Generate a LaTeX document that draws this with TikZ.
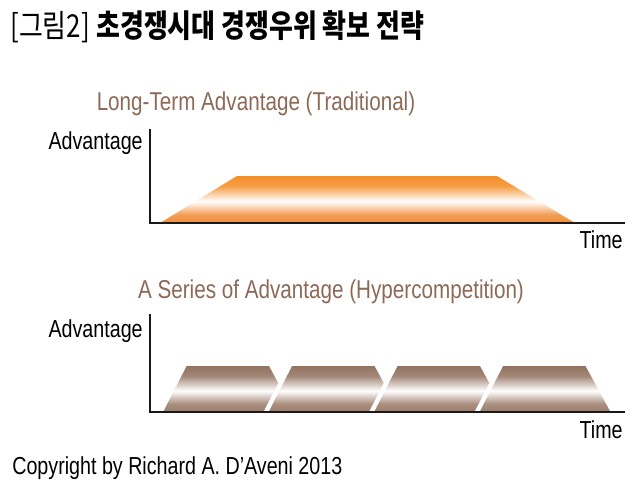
\documentclass[tikz,border=0pt]{standalone}
\usepackage{xcolor}
\usepackage{fontspec}
\setmainfont{Liberation Sans}[FakeStretch=0.8]
\newfontfamily\hangul{Noto Sans CJK KR}[FakeStretch=0.82]
\usetikzlibrary{positioning}

\definecolor{headbrown}{HTML}{8B6A57}
\definecolor{orangetop}{HTML}{F58E28}
\definecolor{orangebot}{HTML}{F08D3A}
\definecolor{browntop}{HTML}{937360}
\definecolor{brownbot}{HTML}{9C7C69}

\pgfdeclareverticalshading{orangeband}{100bp}{color(0bp)=(orangebot); color(25bp)=(orangebot); color(34bp)=(orangebot!85!white); color(48bp)=(white); color(64bp)=(orangetop!85!white); color(75bp)=(orangetop); color(100bp)=(orangetop)}
\pgfdeclareverticalshading{brownband}{100bp}{color(0bp)=(brownbot); color(25bp)=(brownbot); color(34bp)=(brownbot!85!white); color(48bp)=(white); color(64bp)=(browntop!85!white); color(75bp)=(browntop); color(100bp)=(browntop)}

\begin{document}
\begin{tikzpicture}[
    x=0.02cm, y=-0.02cm,
    label/.style={inner sep=0pt, font=\fontsize{14}{16}\selectfont},
    heading/.style={inner sep=0pt, font=\fontsize{14.7}{17}\selectfont, text=headbrown, anchor=base},
    axis/.style={line width=1.7pt, line join=miter, black!90},
    gap/.style={white, line width=2.5pt}
]
    \useasboundingbox (0,0) rectangle (640,487);

    % title
    \node (title) [inner sep=0pt, anchor=base west, font=\hangul\fontsize{18}{20}\selectfont] at (10,37) {[그림2]\hspace{0.2em}\textbf{초경쟁시대 경쟁우위 확보 전략}};

    % traditional
    \node (head1) [heading] at (256,110) {Long-Term Advantage (Traditional)};
    \node (adv1) [label, anchor=base east] at (143,149) {Advantage};
    \shade[shading=orangeband] (160,223) -- (237,176) -- (497,176) -- (575,223) -- cycle;
    \draw[axis] (150,129) -- (150,223) -- (625,223);
    \node (time1) [label, anchor=base east] at (623,248) {Time};

    % hypercompetition
    \node (head2) [heading] at (331,298) {A Series of Advantage (Hypercompetition)};
    \node (adv2) [label, anchor=base east] at (143,337) {Advantage};
    \foreach \b in {160,265.5,371,476.5} {
        \shade[shading=brownband] (\b,412) -- (\b+24,366) -- (\b+109,366) -- (\b+134,412) -- cycle;
        \draw[gap] (\b,413) -- (\b+24.5,365);
    }
    \draw[axis] (150,314) -- (150,412) -- (625,412);
    \node (time2) [label, anchor=base east] at (623,438) {Time};

    \node (copyright) [label, anchor=base west] at (12,474) {Copyright by Richard A. D’Aveni 2013};
\end{tikzpicture}
\end{document}
